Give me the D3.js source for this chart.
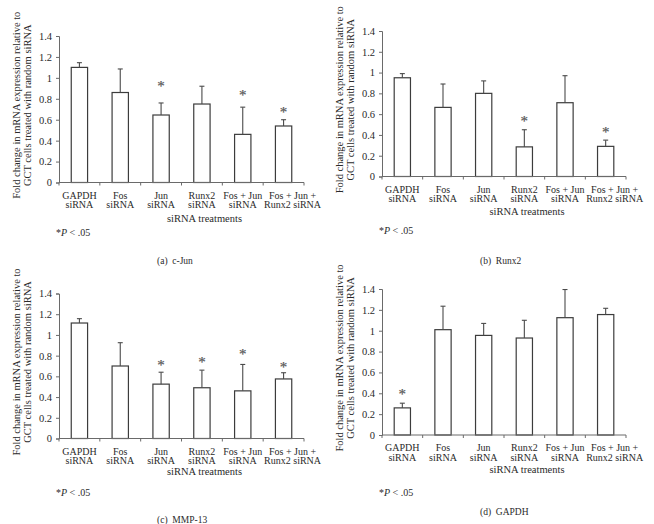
<!DOCTYPE html>
<html>
<head>
<meta charset="utf-8">
<script src="https://cdn.jsdelivr.net/npm/d3@7"></script>
<style>
  body { margin: 0; background: #fff; }
  svg { display: block; font-family: "Liberation Serif", "DejaVu Serif", serif; }
</style>
</head>
<body>
<svg id="fig" width="654" height="524"></svg>
<script>
// categories (two text lines each)
var categories = [
  ["GAPDH", "siRNA"], ["Fos", "siRNA"], ["Jun", "siRNA"],
  ["Runx2", "siRNA"], ["Fos + Jun", "siRNA"], ["Fos + Jun +", "Runx2 siRNA"]
];
var yTicks = [0, 0.2, 0.4, 0.6, 0.8, 1, 1.2, 1.4];

// bar means, top of error bar, and level of the "*" mark (null = none)
var cJunMean = [1.10, 0.86, 0.645, 0.75, 0.46, 0.54];
var cJunTop  = [1.145, 1.085, 0.76, 0.92, 0.72, 0.60];
var cJunStar = [null, null, 0.94, null, 0.86, 0.69];

var runx2Mean = [0.95, 0.665, 0.80, 0.285, 0.71, 0.29];
var runx2Top  = [0.99, 0.89, 0.92, 0.45, 0.97, 0.35];
var runx2Star = [null, null, null, 0.55, null, 0.45];

var mmp13Mean = [1.115, 0.70, 0.525, 0.49, 0.46, 0.575];
var mmp13Top  = [1.157, 0.925, 0.64, 0.66, 0.715, 0.635];
var mmp13Star = [null, null, 0.73, 0.76, 0.84, 0.71];

var gapdhMean = [0.26, 1.01, 0.955, 0.93, 1.125, 1.155];
var gapdhTop  = [0.305, 1.235, 1.07, 1.10, 1.395, 1.215];
var gapdhStar = [0.41, null, null, null, null, null];

var yTitle = ["Fold change in mRNA expression relative to", "GCT cells treated with random siRNA"];
var xTitle = "siRNA treatments";

// panel layout
var panels = [
  { mean: cJunMean, top: cJunTop, star: cJunStar, caption: "(a)  c-Jun",
    x0: 59, x1: 304, yTop: 36, yBot: 182.5, xt: 218, fn: 232, cap: 260 },
  { mean: runx2Mean, top: runx2Top, star: runx2Star, caption: "(b)  Runx2",
    x0: 382, x1: 626, yTop: 31, yBot: 176.5, xt: 211, fn: 230, cap: 260 },
  { mean: mmp13Mean, top: mmp13Top, star: mmp13Star, caption: "(c)  MMP-13",
    x0: 59, x1: 304, yTop: 293.5, yBot: 438.5, xt: 471.5, fn: 492, cap: 519.5 },
  { mean: gapdhMean, top: gapdhTop, star: gapdhStar, caption: "(d)  GAPDH",
    x0: 382, x1: 626, yTop: 289, yBot: 435, xt: 469, fn: 492, cap: 511.5 }
];

var svg = d3.select("#fig");
var axisColor = "#6a6a6a";
var textColor = "#2a2a2a";

panels.forEach(function(p) {
  var g = svg.append("g");

  var x = d3.scaleBand()
    .domain(d3.range(categories.length))
    .range([p.x0, p.x1])
    .paddingInner(0.6)
    .paddingOuter(0.3);
  var y = d3.scaleLinear().domain([0, 1.4]).range([p.yBot, p.yTop]);
  var step = x.step();

  // y axis
  var yAxis = g.append("g")
    .attr("transform", "translate(" + p.x0 + ",0)")
    .call(d3.axisLeft(y).tickValues(yTicks).tickSize(3).tickPadding(4)
      .tickFormat(function(d) { return String(+d.toFixed(1)); }));
  yAxis.select(".domain").attr("stroke", axisColor);
  yAxis.selectAll(".tick line").attr("stroke", axisColor);
  yAxis.selectAll(".tick text")
    .attr("fill", textColor)
    .style("font-family", "Liberation Serif")
    .style("font-size", "10.5px");

  // bars
  g.selectAll("rect.bar")
    .data(p.mean)
    .join("rect")
    .attr("class", "bar")
    .attr("x", function(d, i) { return x(i); })
    .attr("y", function(d) { return y(d); })
    .attr("width", x.bandwidth())
    .attr("height", function(d) { return y(0) - y(d); })
    .attr("fill", "#fff")
    .attr("stroke", "#3c3c3c")
    .attr("stroke-width", 1.2);

  // error bars (upper only)
  var errs = g.selectAll("g.err")
    .data(p.top)
    .join("g")
    .attr("class", "err");
  errs.append("line")
    .attr("x1", function(d, i) { return x(i) + x.bandwidth() / 2; })
    .attr("x2", function(d, i) { return x(i) + x.bandwidth() / 2; })
    .attr("y1", function(d, i) { return y(p.mean[i]); })
    .attr("y2", function(d) { return y(d); })
    .attr("stroke", "#4a4a4a")
    .attr("stroke-width", 1.1);
  errs.append("line")
    .attr("x1", function(d, i) { return x(i) + x.bandwidth() / 2 - 2.5; })
    .attr("x2", function(d, i) { return x(i) + x.bandwidth() / 2 + 2.5; })
    .attr("y1", function(d) { return y(d); })
    .attr("y2", function(d) { return y(d); })
    .attr("stroke", "#4a4a4a")
    .attr("stroke-width", 1.1);

  // x axis line and ticks at category boundaries
  g.append("line")
    .attr("x1", p.x0).attr("x2", p.x1)
    .attr("y1", y(0)).attr("y2", y(0))
    .attr("stroke", axisColor);
  g.selectAll("line.xtick")
    .data(d3.range(categories.length + 1))
    .join("line")
    .attr("class", "xtick")
    .attr("x1", function(i) { return p.x0 + i * step; })
    .attr("x2", function(i) { return p.x0 + i * step; })
    .attr("y1", y(0)).attr("y2", y(0) + 3)
    .attr("stroke", axisColor);

  // category labels (the last, widest one sits a little to the right)
  var lab = g.selectAll("text.cat")
    .data(categories)
    .join("text")
    .attr("class", "cat")
    .attr("text-anchor", "middle")
    .attr("fill", textColor)
    .style("font-size", "10px");
  lab.each(function(d, i) {
    var cx = x(i) + x.bandwidth() / 2 + (i === categories.length - 1 ? 9 : 0);
    d3.select(this).selectAll("tspan")
      .data(d)
      .join("tspan")
      .attr("x", cx)
      .attr("y", function(t, j) { return y(0) + 16 + j * 9.5; })
      .text(function(t) { return t; });
  });

  // stars (stroked so they render as plain grey shapes)
  g.selectAll("text.star")
    .data(p.star.map(function(s, i) { return { s: s, i: i }; }).filter(function(d) { return d.s !== null; }))
    .join("text")
    .attr("class", "star")
    .attr("text-anchor", "middle")
    .attr("x", function(d) { return x(d.i) + x.bandwidth() / 2; })
    .attr("y", function(d) { return y(d.s) + 7; })
    .attr("fill", "#555")
    .attr("stroke", "#555")
    .attr("stroke-width", 0.2)
    .style("font-family", "Liberation Serif")
    .style("font-size", "15px")
    .text("*");

  // axis titles
  g.append("text")
    .attr("x", (p.x0 + p.x1) / 2 + 23)
    .attr("y", p.xt + 3.5)
    .attr("text-anchor", "middle")
    .attr("fill", textColor)
    .style("font-size", "10.5px")
    .text(xTitle);

  var ym = (p.yTop + p.yBot) / 2 - 4;
  g.append("text")
    .attr("transform", "translate(" + (p.x0 - 39) + "," + ym + ") rotate(-90)")
    .attr("text-anchor", "middle")
    .attr("fill", textColor)
    .style("font-size", "10.5px")
    .selectAll("tspan")
    .data(yTitle)
    .join("tspan")
    .attr("x", 0)
    .attr("dy", function(t, j) { return j === 0 ? 0 : 10.5; })
    .text(function(t) { return t; });

  // footnote
  var fn = g.append("text")
    .attr("x", p.x0 - 3)
    .attr("y", p.fn + 3.5)
    .attr("fill", textColor)
    .style("font-size", "10px");
  fn.append("tspan").text("*");
  fn.append("tspan").style("font-style", "italic").text("P");
  fn.append("tspan").text(" < .05");

  // caption
  g.append("text")
    .attr("x", p.x0 + 98)
    .attr("y", p.cap + 3.5)
    .attr("fill", textColor)
    .style("font-size", "9.5px")
    .attr("xml:space", "preserve")
    .text(p.caption);
});
</script>
</body>
</html>
